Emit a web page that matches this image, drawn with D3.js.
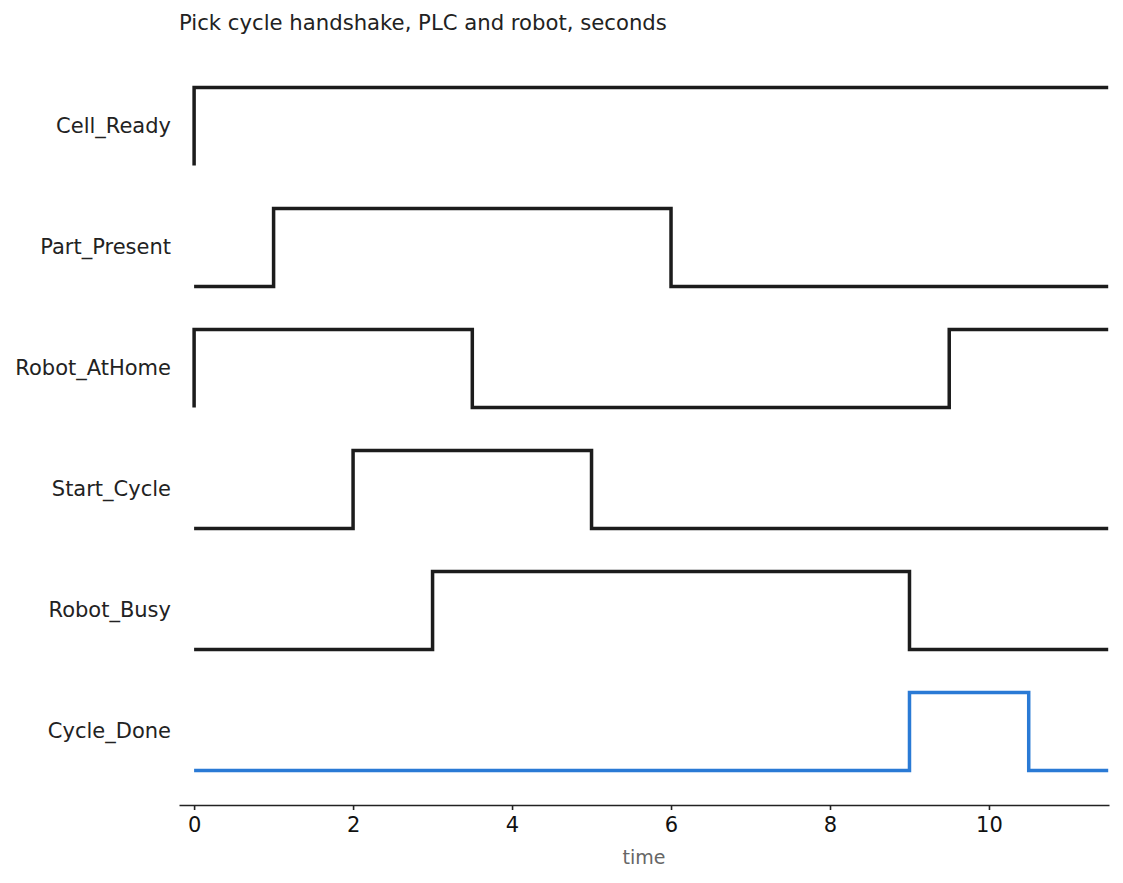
<!DOCTYPE html>
<html><head><meta charset="utf-8">
<script src="https://cdn.jsdelivr.net/npm/d3@7"></script>
<style>body{margin:0;background:#fff;} text{font-family:"DejaVu Sans",sans-serif;}</style>
</head><body>
<svg id="c" width="1123" height="883"></svg>
<script>
const title = "Pick cycle handshake, PLC and robot, seconds";
const signals = ["Cell_Ready","Part_Present","Robot_AtHome","Start_Cycle","Robot_Busy","Cycle_Done"];
// edge times for each signal; every signal starts low at t=0 and toggles at each edge
const edges = [
  [0],
  [1, 6],
  [0, 3.5, 9.5],
  [2, 5],
  [3, 9],
  [9, 10.5]
];
const highlight = ["Cycle_Done"];
const xTicks = [0, 2, 4, 6, 8, 10];
const tEnd = 11.5;

const svg = d3.select("#c");
const x = d3.scaleLinear().domain([-0.19, 11.51]).range([179, 1109]);
const band = d3.scaleBand().domain(signals).range([66, 792]);
const amp = 78;

svg.append("text").attr("x", 179).attr("y", 30).attr("font-size", 21.2).attr("fill", "#222").text(title);

signals.forEach((s, i) => {
  const mid = band(s) + band.bandwidth() / 2;
  const low = mid + amp / 2, high = mid - amp / 2;
  const yv = d3.scaleLinear().domain([0, 1]).range([low, high]);
  const pts = [[0, 0]];
  let v = 0;
  edges[i].forEach(t => { v = 1 - v; pts.push([t, v]); });
  pts.push([tEnd, v]);
  const line = d3.line().x(d => x(d[0])).y(d => yv(d[1])).curve(d3.curveStepAfter);
  svg.append("path").attr("d", line(pts)).attr("fill", "none")
    .attr("stroke", highlight.includes(s) ? "#2a7ad5" : "#1c1c1c")
    .attr("stroke-width", 3.5).attr("stroke-linejoin", "miter");
  svg.append("text").attr("x", 171).attr("y", mid - 1).attr("dy", "0.35em")
    .attr("text-anchor", "end").attr("font-size", 21).attr("fill", "#222").text(s);
});

const ax = svg.append("g").attr("transform", "translate(0,805)")
  .call(d3.axisBottom(x).tickValues(xTicks).tickSize(5).tickPadding(7).tickSizeOuter(0));
ax.select(".domain").attr("stroke", "#222").attr("stroke-width", 1.6);
ax.selectAll(".tick line").attr("stroke", "#222").attr("stroke-width", 1.6);
ax.selectAll(".tick text").attr("font-size", 21).attr("fill", "#111").attr("font-family", "DejaVu Sans");

svg.append("text").attr("x", (179 + 1109) / 2).attr("y", 864).attr("text-anchor", "middle")
  .attr("font-size", 19).attr("fill", "#666").text("time");
</script>
</body></html>
